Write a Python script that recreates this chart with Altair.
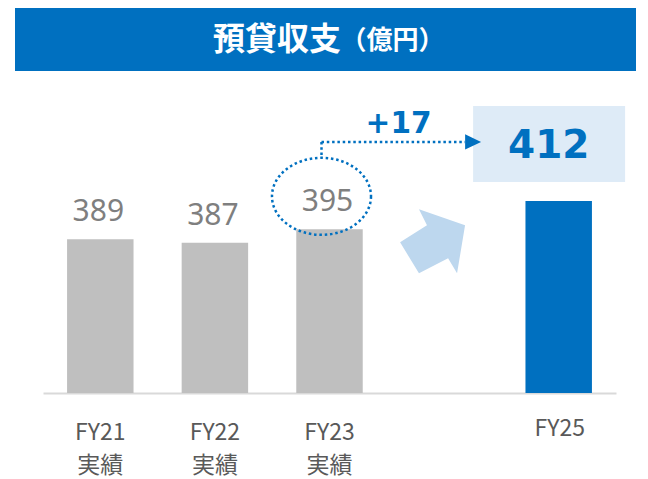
import altair as alt
import pandas as pd

# ---- data ----
categories = ["FY21", "FY22", "FY23", "FY24", "FY25"]
sublabels = ["実績", "実績", "実績", "", ""]
axis_label_shown = [True, True, True, False, False]   # FY25 label is drawn separately (sits higher)
values = [389, 387, 395, None, 412]

title_main = "預貸収支"
title_unit = "（億円）"
diff_text = "+" + str(values[4] - values[2])

df = pd.DataFrame({"category": categories, "value": values, "sub": sublabels})

# ---- style ----
BLUE = "#0070C0"
GREY = "#BFBFBF"
LABEL_GREY = "#7F7F7F"
AXIS_GREY = "#595959"
BOX_BLUE = "#DEEBF7"
ARROW_BLUE = "#BDD7EE"
CJK = "Noto Sans CJK JP"

W, H = 573, 313
Y_MIN = 297
Y_MAX = Y_MIN + H / 1.67

# axis label expression (multi-line)
parts = []
for c, s, show in zip(categories, sublabels, axis_label_shown):
    if not show:
        lab = "''"
    elif s:
        lab = "['%s','%s']" % (c, s)
    else:
        lab = "'%s'" % c
    parts.append("datum.value == '%s' ? %s" % (c, lab))
label_expr = " : ".join(parts) + " : ''"

x_enc = alt.X(
    "category:N",
    sort=categories,
    scale=alt.Scale(domain=categories, paddingInner=0.42, paddingOuter=0.21),
    axis=alt.Axis(
        title=None, labelExpr=label_expr, labelAngle=0, ticks=False, tickSize=0,
        domain=True, domainColor="#D9D9D9", domainWidth=2, grid=False,
        labelFont=CJK, labelFontSize=23, labelColor=AXIS_GREY,
        labelPadding=28, labelLineHeight=33, labelBaseline="top",
    ),
)
y_scale = alt.Scale(domain=[Y_MIN, Y_MAX], nice=False, zero=False, clamp=True)
y_enc = alt.Y("value:Q", scale=y_scale, axis=None)

base = alt.Chart(df).transform_filter("isValid(datum.value)")

bars = base.mark_bar().encode(
    x=x_enc,
    y=y_enc,
    y2=alt.datum(Y_MIN),
    color=alt.condition(alt.datum.category == "FY25", alt.value(BLUE), alt.value(GREY)),
)

bar_labels = base.transform_filter(alt.datum.category != "FY25").mark_text(
    font="Noto Sans", fontSize=30, color=LABEL_GREY, baseline="alphabetic", dy=-18, dx=-2
).encode(x="category:N", y="value:Q", text="value:Q")

fy25_label = base.transform_filter(alt.datum.category == "FY25").mark_text(
    font=CJK, fontSize=23, color=AXIS_GREY, baseline="alphabetic", dy=43, dx=1
).encode(x="category:N", y=alt.datum(Y_MIN), text="category:N")

ann = alt.Chart(pd.DataFrame({"k": [0]}))

ELLIPSE = ("M 1.286 0 C 1.286 0.5523 0.7103 1 0 1 C -0.7103 1 -1.286 0.5523 -1.286 0 "
           "C -1.286 -0.5523 -0.7103 -1 0 -1 C 0.7103 -1 1.286 -0.5523 1.286 0 Z")
ellipse = ann.mark_point(
    shape=ELLIPSE, size=5929, filled=False, stroke=BLUE, strokeWidth=2.5,
    strokeDash=[2.5, 2.8], opacity=1, xOffset=-8, yOffset=-33,
).encode(x=alt.datum("FY23"), y=alt.datum(values[2]))

vline = ann.mark_rule(
    color=BLUE, strokeWidth=2.5, strokeDash=[2.5, 2.8], xOffset=-8, yOffset=-59, y2Offset=-71.3
).encode(x=alt.datum("FY23"), y=alt.datum(values[4]), y2=alt.datum(values[2]))

hline = ann.mark_rule(
    color=BLUE, strokeWidth=2.5, strokeDash=[2.5, 2.8], xOffset=-8, x2Offset=-93.6, yOffset=-59
).encode(x=alt.datum("FY23"), x2=alt.datum("FY25"), y=alt.datum(values[4]))

RECT = "M -1 -0.5 L 1 -0.5 L 1 0.5 L -1 0.5 Z"
box = ann.mark_point(
    shape=RECT, size=23104, filled=True, color=BOX_BLUE, opacity=1, xOffset=-9.6, yOffset=-57
).encode(x=alt.datum("FY25"), y=alt.datum(values[4]))

head = ann.mark_point(
    shape="M 1 0 L -1 -0.95 L -1 0.95 Z", size=256, filled=True, color=BLUE, opacity=1,
    xOffset=-85.6, yOffset=-59,
).encode(x=alt.datum("FY25"), y=alt.datum(values[4]))

box_text = base.transform_filter(alt.datum.category == "FY25").mark_text(
    font="DejaVu Sans", fontWeight="bold", fontSize=39, color=BLUE, baseline="alphabetic",
    dx=-10, dy=-43,
).encode(x="category:N", y="value:Q", text="value:Q")

diff = ann.mark_text(
    font="DejaVu Sans", fontWeight="bold", fontSize=29.6, color=BLUE, baseline="alphabetic",
    dx=-45.5, dy=-67.7,
).encode(x=alt.datum("FY24"), y=alt.datum(values[4]), text=alt.value(diff_text))

ARROW = ("M -1 0.03 L -0.16 -0.5 L -0.41 -1 L 1.03 -0.5 L 0.78 1 L 0.5 0.53 L -0.41 1 Z")
big_arrow = ann.mark_point(
    shape=ARROW, size=4096, filled=True, color=ARROW_BLUE, opacity=1, xOffset=-12, yOffset=12,
).encode(x=alt.datum("FY24"), y=alt.datum(values[2]))

banner = ann.mark_rect(color=BLUE).encode(
    x=alt.value(-28), x2=alt.value(593), y=alt.value(-72), y2=alt.value(-9)
)
t_main = ann.mark_text(
    font=CJK, fontWeight="bold", fontSize=32, color="white", align="center", baseline="middle"
).encode(x=alt.value(234), y=alt.value(-40), text=alt.value(title_main))
t_unit = ann.mark_text(
    font=CJK, fontWeight="bold", fontSize=26, color="white", align="center", baseline="middle"
).encode(x=alt.value(349.5), y=alt.value(-39.5), text=alt.value(title_unit))

chart = alt.layer(
    bars, bar_labels, fy25_label, big_arrow, box, hline, vline, head, ellipse, box_text, diff,
    banner, t_main, t_unit,
).properties(
    width=W, height=H,
    autosize=alt.AutoSizeParams(type="none"),
    padding={"left": 35, "top": 72, "right": 24, "bottom": 86},
).configure_view(stroke=None)

chart.save("out.html", embed_options={"renderer": "svg", "actions": False})
